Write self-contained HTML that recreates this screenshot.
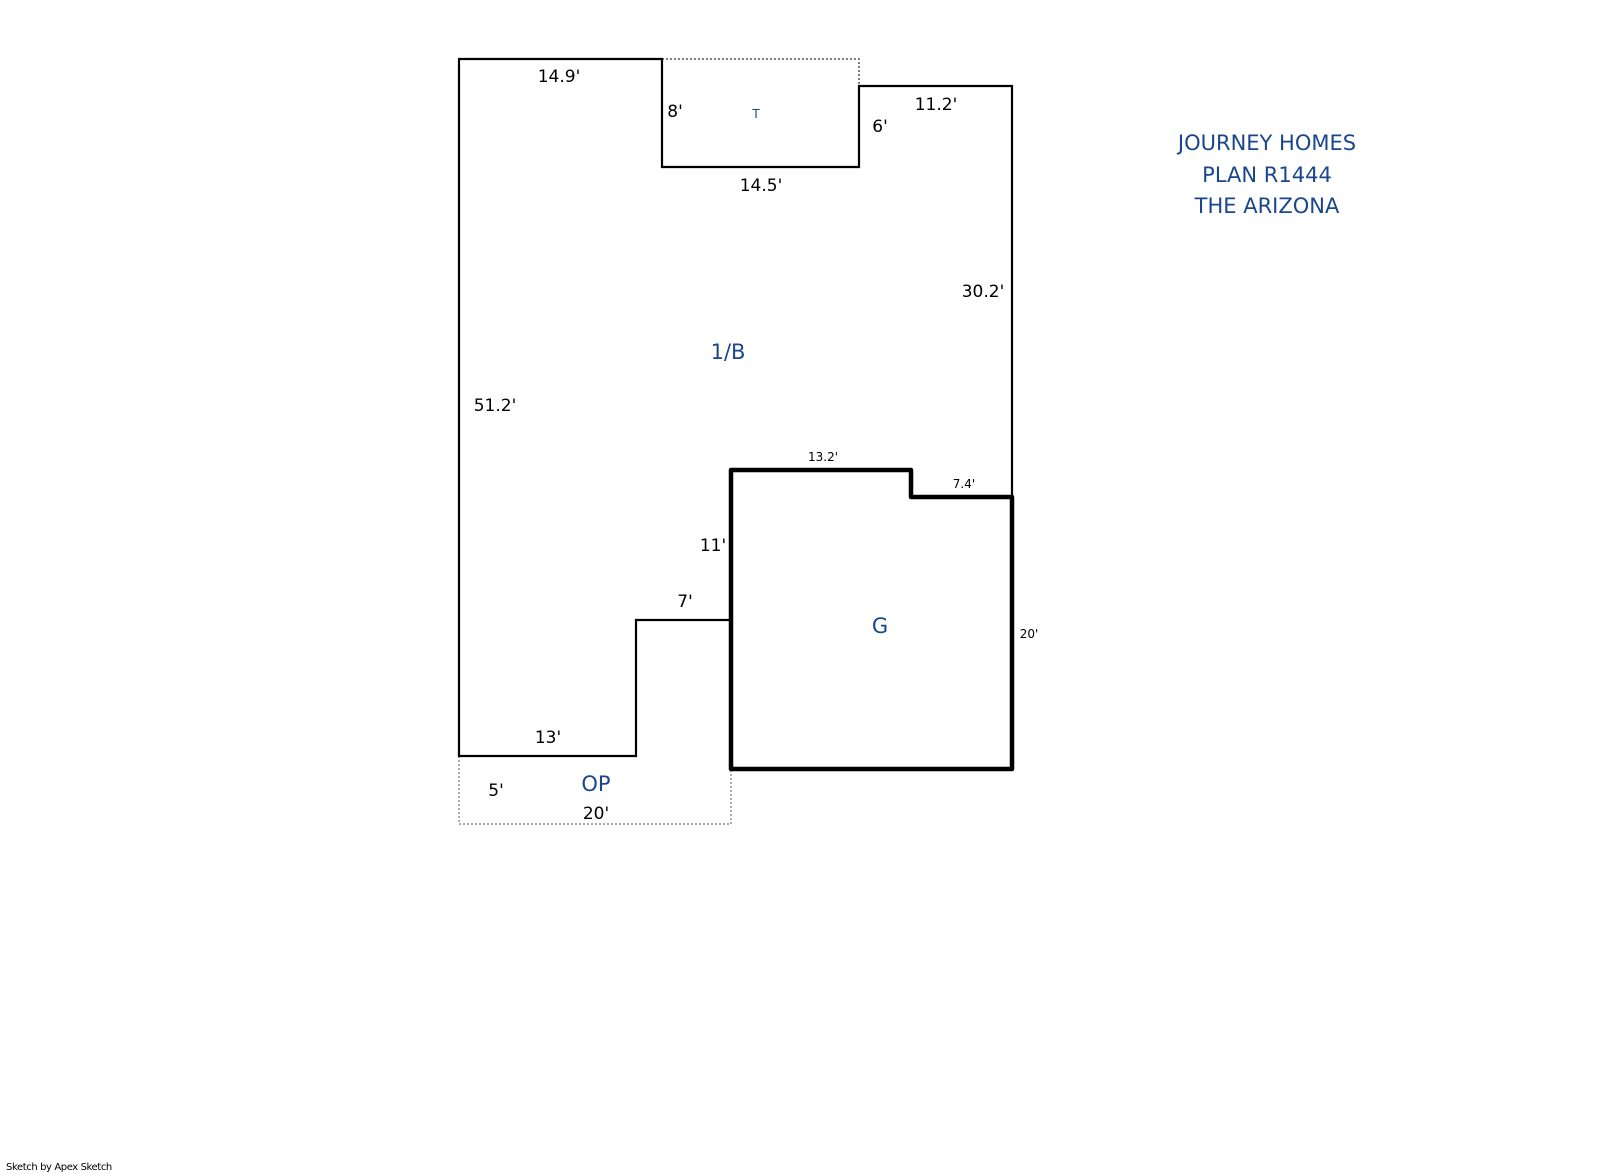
<!DOCTYPE html>
<html><head><meta charset="utf-8"><style>
html,body{margin:0;padding:0;background:#fff;}
svg{display:block;}
text{font-family:"DejaVu Sans","Liberation Sans",sans-serif;}
.d{font-size:17px;fill:#000;}
.s{font-size:12px;fill:#000;}
.b{fill:#1a468c;}
</style></head><body>
<svg width="1601" height="1174" viewBox="0 0 1601 1174" xmlns="http://www.w3.org/2000/svg">
<polyline points="662,59 859,59 859,86" fill="none" stroke="#555" stroke-width="1.5" stroke-dasharray="2,2"/>
<polyline points="459,756 459,824 731,824 731,769" fill="none" stroke="#777" stroke-width="1.2" stroke-dasharray="2,2"/>
<polyline points="1012,497 1012,86 859,86 859,167 662,167 662,59 459,59 459,756 636,756 636,620 731,620" fill="none" stroke="#000" stroke-width="2.2"/>
<polygon points="731,470 911,470 911,497 1012,497 1012,769 731,769" fill="none" stroke="#000" stroke-width="4.5" stroke-linejoin="round"/>
<g text-anchor="middle" dominant-baseline="central">
<text class="d" x="559" y="77">14.9'</text>
<text class="d" x="675" y="112">8'</text>
<text class="b" x="756" y="114" font-size="12">T</text>
<text class="d" x="880" y="127">6'</text>
<text class="d" x="936" y="105">11.2'</text>
<text class="d" x="761" y="186">14.5'</text>
<text class="d" x="983" y="292">30.2'</text>
<text class="b" x="728" y="352" font-size="21">1/B</text>
<text class="d" x="495" y="406">51.2'</text>
<text class="s" x="823" y="457">13.2'</text>
<text class="s" x="964" y="484">7.4'</text>
<text class="d" x="713" y="546">11'</text>
<text class="d" x="685" y="602">7'</text>
<text class="b" x="880" y="626" font-size="21">G</text>
<text class="s" x="1029" y="634">20'</text>
<text class="d" x="548" y="738">13'</text>
<text class="d" x="496" y="791">5'</text>
<text class="b" x="596" y="784" font-size="21">OP</text>
<text class="d" x="596" y="814">20'</text>
<text class="b" x="1267" y="143" font-size="21">JOURNEY HOMES</text>
<text class="b" x="1267" y="175" font-size="21">PLAN R1444</text>
<text class="b" x="1267" y="206" font-size="21">THE ARIZONA</text>
</g>
<text x="6" y="1170" font-size="10" fill="#000" style="letter-spacing:-0.4px">Sketch by Apex Sketch</text>
</svg>
</body></html>
